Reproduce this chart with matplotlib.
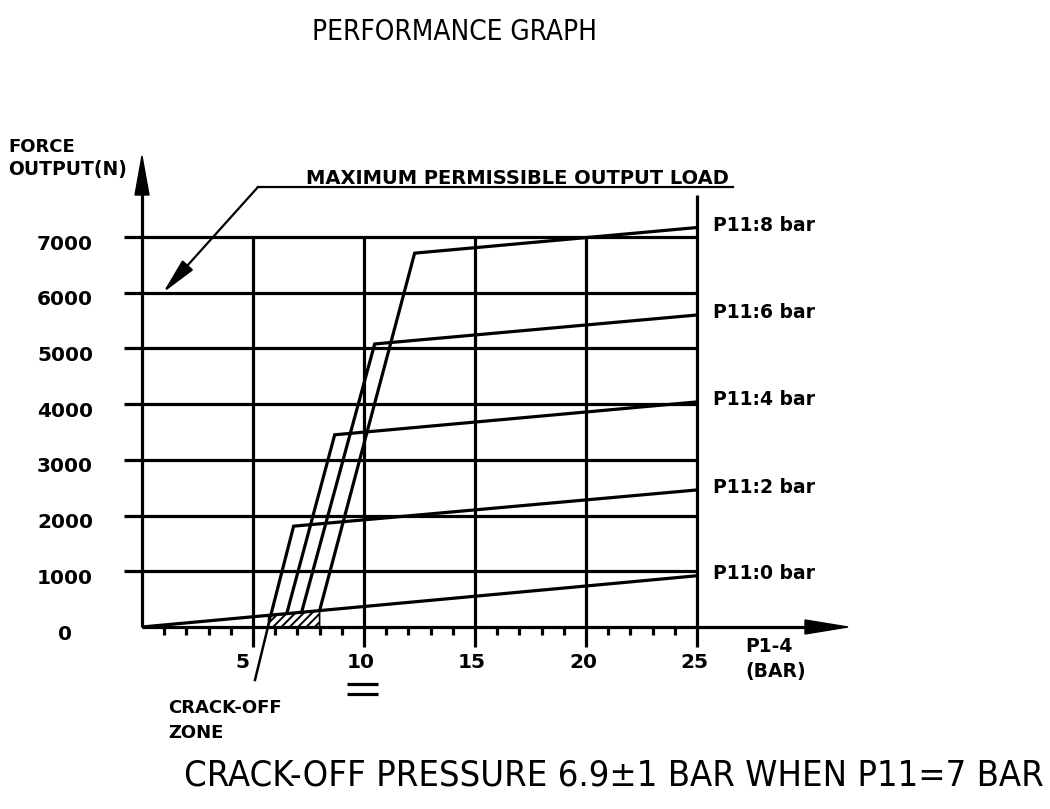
import numpy as np
import matplotlib
matplotlib.use("Agg")
import matplotlib.pyplot as plt

# data
X_TICKS = [5, 10, 15, 20, 25]
Y_TICKS = [0, 1000, 2000, 3000, 4000, 5000, 6000, 7000]
ZERO_BAR_END = 920               # P11 = 0 bar line at P1-4 = 25 bar
PRESSURES = [2, 4, 6, 8]         # P11 bar
RISE_X = [5.8, 6.52, 7.19, 8.0]  # start of steep rise (on the 0 bar line)
RISE_Y = [210, 240, 265, 295]
KNEE_X = [6.83, 8.68, 10.48, 12.28]
KNEE_Y = [1810, 3450, 5080, 6710]
END_Y = [2460, 4040, 5600, 7170]  # at P1-4 = 25 bar
CRACK_X = [5.7, 8.0]
CRACK_TOP = [200, 295]
MAX_LOAD = 6000

LW = 2.3
NARROW = ['Liberation Sans Narrow', 'DejaVu Sans']
plt.rcParams['hatch.linewidth'] = 1.4

fig = plt.figure(figsize=(10.5, 8.09), dpi=100)
ax = fig.add_axes([142/1050, 182/809, 555/1050, 390/809])
ax.set_xlim(0, 25)
ax.set_ylim(0, 7000)
ax.axis('off')

px = 25 / 555.0      # one pixel in x data units
py = 7000 / 390.0    # one pixel in y data units

kw = dict(color='black', lw=LW, clip_on=False, solid_capstyle='butt')

# grid
for y in Y_TICKS[1:]:
    ax.plot([-18*px, 25], [y, y], **kw)
for x in X_TICKS[:-1]:
    ax.plot([x, x], [-20*py, 7000], **kw)
ax.plot([25, 25], [-20*py, (627-195)*py], **kw)

# axes with arrows
ax.plot([0, 0], [0, (627-190)*py], **kw)
ax.fill([-7*px, 7*px, 0], [(627-195)*py, (627-195)*py, (627-156)*py], color='black', clip_on=False)
ax.plot([0, (810-142)*px], [0, 0], **kw)
ax.fill([(805-142)*px, (805-142)*px, (848-142)*px], [-7*py, 7*py, 0], color='black', clip_on=False)

# minor ticks
for x in range(1, 25):
    if x % 5:
        ax.plot([x, x], [0, -8*py], **kw)

# crack-off zone
ax.fill_between(CRACK_X, [0, 0], CRACK_TOP, facecolor='white', edgecolor='black',
                hatch='////', lw=1.2, clip_on=False)

# curves
ax.plot([0, 25], [0, ZERO_BAR_END], **kw)
for i in range(len(PRESSURES)):
    ax.plot([RISE_X[i], KNEE_X[i], 25], [RISE_Y[i], KNEE_Y[i], END_Y[i]],
            solid_joinstyle='miter', **kw)

# curve labels
labels_y = [ZERO_BAR_END] + END_Y
for p, y in zip([0] + PRESSURES, labels_y):
    ax.text(25 + 16*px, y + 40, f"P11:{p} bar", fontsize=13.5, fontweight='bold',
            ha='left', va='center', clip_on=False)

# tick labels
for y in Y_TICKS:
    ax.text(-77*px, y - 7*py, str(y), fontsize=14.5, fontweight='bold',
            ha='center', va='center')
for x in X_TICKS:
    off = -11*px if x == 5 else -3*px
    ax.text(x + off, -36*py, str(x), fontsize=14.5, fontweight='bold',
            ha='center', va='center')

ax.text(-134*px, (627-147)*py, "FORCE", fontsize=13, fontweight='bold', ha='left', va='center')
ax.text(-134*px, (627-170)*py, "OUTPUT(N)", fontsize=13.5, fontweight='bold', ha='left', va='center')
ax.text((745-142)*px, -20*py, "P1-4", fontsize=13.5, fontweight='bold', ha='left', va='center')
ax.text((745-142)*px, -44*py, "(BAR)", fontsize=13.5, fontweight='bold', ha='left', va='center')

# "=" under 10
ax.plot([(347-142)*px, (378-142)*px], [-57*py, -57*py], **kw)
ax.plot([(347-142)*px, (378-142)*px], [-67*py, -67*py], **kw)

# maximum permissible load annotation
corner = ((258-142)*px, (627-187)*py)
ax.plot([corner[0], (733-142)*px], [corner[1], corner[1]], color='black', lw=1.6, clip_on=False)
ax.annotate('', xy=((163-142)*px, MAX_LOAD), xytext=corner,
            arrowprops=dict(arrowstyle='-|>,head_length=1.1,head_width=0.22',
                            mutation_scale=20, lw=1.6, color='black',
                            shrinkA=0, shrinkB=0), annotation_clip=False)
ax.text((306-142)*px, (627-184)*py, "MAXIMUM PERMISSIBLE OUTPUT LOAD", fontsize=14,
        fontweight='bold', ha='left', va='baseline')

# crack-off zone leader
ax.plot([(255-142)*px, RISE_X[0]], [-53*py, RISE_Y[0]], color='black', lw=1.8, clip_on=False)
ax.text((168-142)*px, -81*py, "CRACK-OFF", fontsize=13, fontweight='bold', ha='left', va='center')
ax.text((168-142)*px, -106*py, "ZONE", fontsize=13, fontweight='bold', ha='left', va='center')

fig.text(454/1050, 1 - 32/809, "PERFORMANCE GRAPH", fontsize=20, family=NARROW,
         stretch='condensed', ha='center', va='center')
fig.text(614/1050, 1 - 776/809, "CRACK-OFF PRESSURE 6.9\u00b11 BAR WHEN P11=7 BAR", fontsize=26,
         family=NARROW, stretch='condensed', ha='center', va='center')

fig.savefig('out.png', dpi=100, facecolor='white')
